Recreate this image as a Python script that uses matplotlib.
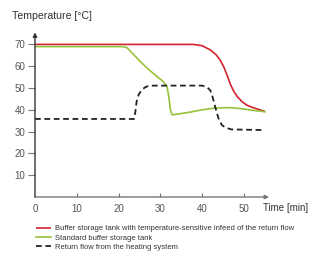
import matplotlib
matplotlib.use("Agg")
import matplotlib.pyplot as plt

# Data
red_t = [0, 38, 40, 42, 43.3, 44.3, 45.2, 46, 46.8, 47.6, 48.4, 49.5, 50.6, 52, 53.5, 55]
red_v = [70, 70, 69.4, 67.4, 65.3, 62.8, 59.5, 55.6, 51.4, 48.3, 46, 43.8, 42.2, 41.1, 40.2, 39.2]

green_t = [0, 21, 22, 23, 25, 27, 29, 30.7, 31.6, 32, 32.4, 32.8, 34, 37, 40, 43, 46.5, 49, 52, 55]
green_v = [69, 69, 68.5, 66.5, 62.5, 58.8, 55.6, 52.9, 50.5, 46, 40, 37.7, 38.0, 38.9, 40.0, 40.8, 41.0, 40.6, 39.8, 39.1]

black_t = [0, 23.7, 24.0, 24.3, 24.8, 25.5, 26.3, 27.2, 28.5, 40, 41.2, 41.9, 42.4, 42.8, 43.3, 43.9, 44.7, 45.6, 47, 55]
black_v = [35.8, 35.8, 39, 43.7, 47, 49, 50.3, 51, 51.1, 51.1, 50.3, 49, 46.5, 43.5, 40, 36, 33, 31.8, 31, 30.7]

x_ticks = [0, 10, 20, 30, 40, 50]
y_ticks = [10, 20, 30, 40, 50, 60, 70]
labels = ["Buffer storage tank with temperature-sensitive infeed of the return flow",
          "Standard buffer storage tank",
          "Return flow from the heating system"]

plt.rcParams['font.family'] = ['Liberation Sans', 'DejaVu Sans']
gray = '#555555'
axc = '#777777'

fig = plt.figure(figsize=(3.27, 2.60), dpi=100)
ax = fig.add_axes([0.107, 0.2423, 0.716, 0.633])
ax.set_xlim(0, 56)
ax.set_ylim(0, 75.5)

l1, = ax.plot(red_t, red_v, color='#d2232e', lw=1.2, solid_capstyle='butt')
l2, = ax.plot(green_t, green_v, color='#96c23a', lw=1.2)
l3, = ax.plot(black_t, black_v, color='#222222', lw=1.3, dashes=(3.2, 2.0))

for s in ax.spines.values():
    s.set_visible(False)
ax.annotate('', xy=(1, 0), xytext=(0, 0), xycoords='axes fraction',
            arrowprops=dict(arrowstyle='-|>', color=axc, lw=1.0, mutation_scale=6,
                            shrinkA=0, shrinkB=0))
ax.annotate('', xy=(0, 1), xytext=(0, 0), xycoords='axes fraction',
            arrowprops=dict(arrowstyle='-|>', color='#333333', lw=1.0, mutation_scale=6,
                            shrinkA=0, shrinkB=0))

ax.set_xticks(x_ticks)
ax.set_yticks(y_ticks)
ax.tick_params(axis='y', direction='out', length=5, width=0.8, color=axc,
               labelcolor=gray, labelsize=7, pad=2)
ax.tick_params(axis='x', direction='in', length=3, width=0.8, color=axc,
               labelcolor=gray, labelsize=7, pad=5)
ax.xaxis.get_major_ticks()[0].tick1line.set_visible(False)

fig.text(12 / 327, 1 - 16 / 260, 'Temperature [°C]', fontsize=7.6, color='#333333',
         va='center', ha='left')
fig.text(263 / 327, 1 - 208 / 260, 'Time [min]', fontsize=7, color='#333333',
         va='center', ha='left')

leg = fig.legend([l1, l2, l3], labels, loc='upper left',
                 bbox_to_anchor=(36 / 327, 1 - 225 / 260), frameon=False,
                 fontsize=5.5, handlelength=1.9, handletextpad=0.6,
                 labelspacing=0.25, borderpad=0, borderaxespad=0)
for t in leg.get_texts():
    t.set_color('#333333')

fig.savefig('out.png', dpi=100)
